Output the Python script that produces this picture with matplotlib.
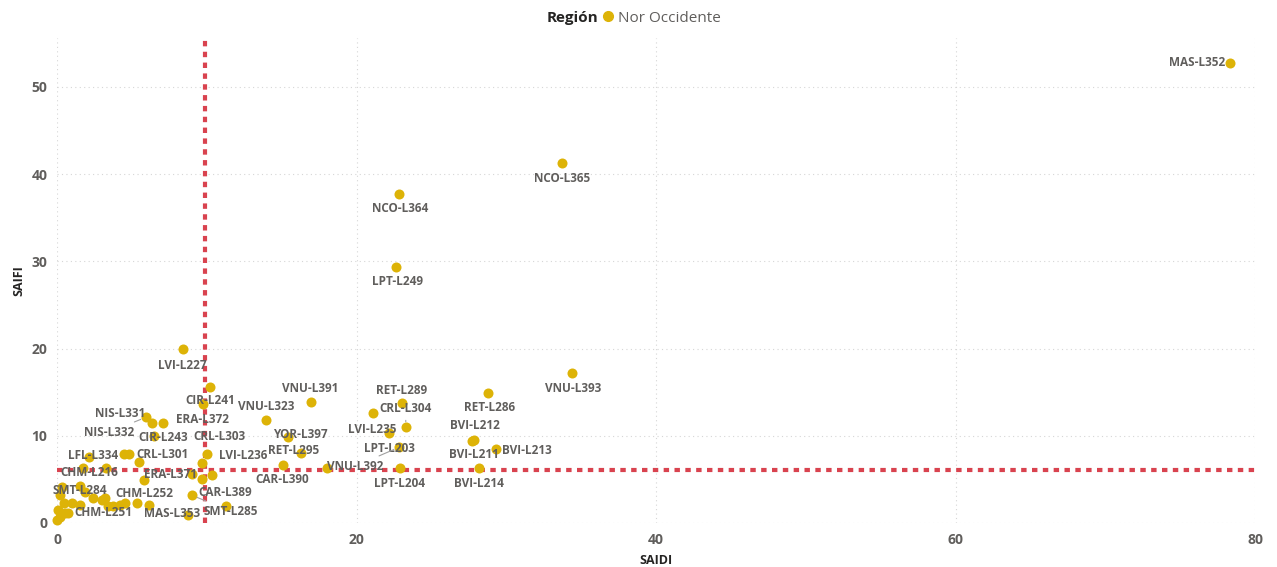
import matplotlib
matplotlib.use("Agg")
import matplotlib.pyplot as plt
from matplotlib.lines import Line2D

plt.rcParams['font.family'] = ['Open Sans', 'DejaVu Sans']

# labelled lines: name, SAIDI, SAIFI
names = ["MAS-L352", "NCO-L365", "NCO-L364", "LPT-L249", "VNU-L393", "RET-L286",
         "RET-L289", "CRL-L304", "LVI-L235", "LPT-L203", "VNU-L392", "LPT-L204",
         "BVI-L212", "BVI-L211", "BVI-L213", "BVI-L214", "VNU-L391", "VNU-L323",
         "YOR-L397", "RET-L295", "CAR-L390", "CIR-L241", "LVI-L227", "ERA-L372",
         "CRL-L303", "LVI-L236", "ERA-L371", "CAR-L389", "SMT-L285", "MAS-L353",
         "CHM-L252", "CHM-L251", "SMT-L284", "CHM-L216", "LFL-L334", "CRL-L301",
         "NIS-L331", "NIS-L332", "CIR-L243"]
saidi = [78.33, 33.72, 22.84, 22.64, 34.41, 28.80,
         23.02, 23.29, 21.08, 22.17, 22.84, 22.90,
         27.85, 27.71, 29.32, 28.20, 16.94, 13.96,
         16.27, 15.45, 15.07, 10.24, 8.39, 9.73,
         9.66, 10.00, 9.00, 11.27, 9.01, 8.77,
         6.16, 3.43, 1.54, 1.76, 4.47, 4.83,
         6.32, 5.94, 7.06]
saifi = [52.79, 41.28, 37.73, 29.36, 17.17, 14.94,
         13.73, 10.97, 12.58, 10.29, 8.68, 6.27,
         9.52, 9.35, 8.45, 6.27, 13.84, 11.81,
         7.99, 9.90, 6.65, 15.63, 19.92, 13.61,
         6.92, 7.91, 5.58, 1.98, 3.18, 0.92,
         2.10, 1.98, 4.24, 6.34, 7.88, 7.91,
         11.43, 12.12, 11.50]

# lines without a visible data label
saidi_other = [18.06, 10.33, 9.66, 5.81, 5.50, 6.48, 2.16, 3.25, 5.36, 4.21,
               3.76, 2.98, 2.42, 1.54, 1.02, 0.47, 0.31, 0.20, 0.53, 0.20,
               0.02, 0.75, 1.87, 3.21, 4.54, 0.07]
saifi_other = [6.36, 5.50, 5.01, 4.93, 7.03, 10.01, 7.60, 6.34, 2.33, 2.10,
               1.98, 2.64, 2.90, 2.10, 2.26, 2.26, 4.16, 3.21, 1.11, 0.72,
               0.34, 1.11, 3.59, 2.83, 2.26, 1.49]

# average reference lines
saidi_ref = 9.85
saifi_ref = 6.08

# label placement (pixels from the point, +y down) and leader-line flags
label_offset = {
    "MAS-L352": (-33, 0), "NCO-L365": (0, 16), "NCO-L364": (1, 15), "LPT-L249": (1, 15),
    "VNU-L393": (1, 15), "RET-L286": (1, 15), "RET-L289": (0, -13), "CRL-L304": (0, -19),
    "LVI-L235": (0, 16), "LPT-L203": (0, 15), "VNU-L392": (-44, 19), "LPT-L204": (0, 15),
    "BVI-L212": (1, -14), "BVI-L211": (2, 13), "BVI-L213": (31, 1), "BVI-L214": (0, 15),
    "VNU-L391": (0, -14), "VNU-L323": (0, -13), "YOR-L397": (0, -19), "RET-L295": (5, 14),
    "CAR-L390": (0, 15), "CIR-L241": (0, 14), "LVI-L227": (0, 16), "ERA-L372": (0, 15),
    "CRL-L303": (18, -26), "LVI-L236": (36, 1), "ERA-L371": (-21, 0), "CAR-L389": (-1, -13),
    "SMT-L285": (39, 16), "MAS-L353": (-16, -1), "CHM-L252": (-5, -11), "CHM-L251": (-5, 7),
    "SMT-L284": (0, 4), "CHM-L216": (6, 5), "LFL-L334": (-31, 1), "CRL-L301": (33, 0),
    "NIS-L331": (-32, -10), "NIS-L332": (-37, 15), "CIR-L243": (0, 15),
}
leaders = {"CRL-L304", "VNU-L392", "YOR-L397", "SMT-L285", "NIS-L332"}

gold = '#DDB307'
red = '#D9434F'
txt = '#605E5C'

fig = plt.figure(figsize=(12.77, 5.67), dpi=100)
ax = fig.add_axes([57 / 1277, 1 - 523 / 567, 1198 / 1277, 485 / 567])

ax.scatter(saidi_other, saifi_other, s=52, color=gold, zorder=3, clip_on=False, linewidths=0)
ax.scatter(saidi, saifi, s=52, color=gold, zorder=3, clip_on=False, linewidths=0)

ax.axvline(saidi_ref, color=red, lw=3, ls=(0, (1.3, 1.3)), zorder=2)
ax.axhline(saifi_ref, color=red, lw=3, ls=(0, (1.3, 1.3)), zorder=2)

px = 0.72  # points per pixel at 100 dpi
for n, x, y in zip(names, saidi, saifi):
    dx, dy = label_offset[n]
    arrow = None
    if n in leaders:
        arrow = dict(arrowstyle='-', color='#A0A0A0', lw=0.8, shrinkA=2, shrinkB=4)
    ax.annotate(n, (x, y), xytext=(dx * px, -dy * px), textcoords='offset points',
                ha='center', va='center', fontsize=8.5, fontweight='bold', color=txt,
                arrowprops=arrow, zorder=4)

ax.set_xlim(0, 80)
ax.set_ylim(0, 55.6)
ax.set_xticks([0, 20, 40, 60, 80])
ax.set_yticks([0, 10, 20, 30, 40, 50])
ax.grid(True, color='#D6D6D6', ls=(0, (1, 3)), lw=0.8)
ax.set_axisbelow(True)
for s in ax.spines.values():
    s.set_visible(False)
ax.tick_params(length=0, labelsize=10, labelcolor=txt, pad=7)
for lab in ax.get_xticklabels() + ax.get_yticklabels():
    lab.set_fontweight('bold')
ax.set_xlabel('SAIDI', fontsize=9, fontweight='bold', color='#252423', labelpad=5)
ax.set_ylabel('SAIFI', fontsize=9, fontweight='bold', color='#252423', labelpad=4)

fig.text(598 / 1277, 1 - 18 / 567, 'Región', ha='right', va='center',
         fontsize=11, fontweight='bold', color='#252423')
handle = Line2D([], [], marker='o', ls='', color=gold, markersize=7)
fig.legend([handle], ['Nor Occidente'], loc='center left',
           bbox_to_anchor=(601 / 1277, 1 - 18 / 567), frameon=False,
           handlelength=0.9, handletextpad=0.2, borderpad=0, borderaxespad=0,
           fontsize=11, labelcolor=txt)

fig.savefig('out.png', dpi=100)
